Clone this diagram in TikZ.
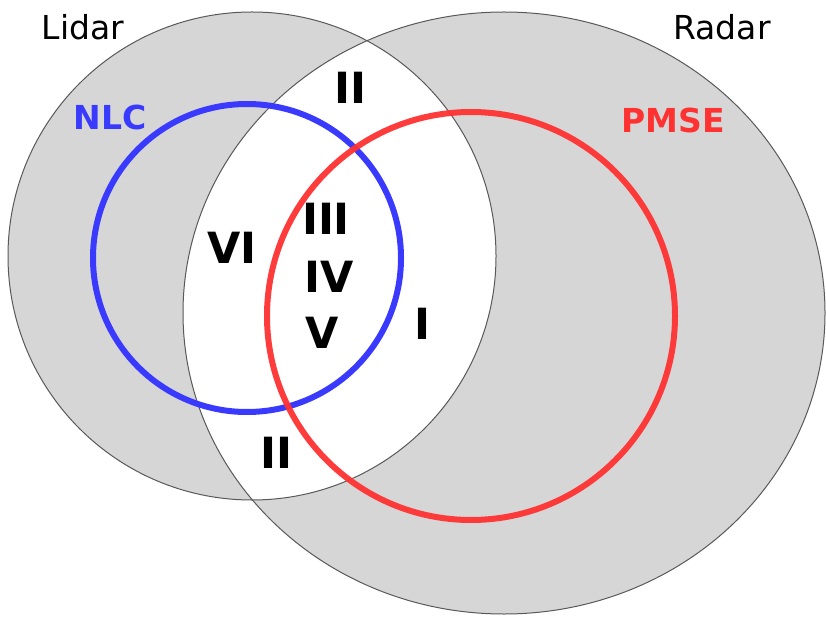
\documentclass[tikz,border=0pt]{standalone}
\usepackage{fontspec}
\setmainfont{DejaVu Sans}
\definecolor{sensorgray}{RGB}{214,214,214}
\definecolor{nlcblue}{RGB}{58,58,255}
\definecolor{pmsered}{RGB}{255,50,50}

\begin{document}
\begin{tikzpicture}[x=1pt, y=-1pt,
	instrument/.style={font=\fontsize{33}{33}\selectfont},
	layer/.style={font=\bfseries\fontsize{33}{33}\selectfont},
	region/.style={font=\bfseries\fontsize{43}{43}\selectfont},
	ring/.style={line width=6pt},]

\useasboundingbox (0,0) rectangle (826,617);

% Lidar and Radar fields of view, overlap left white
\fill[sensorgray, even odd rule] (252,256) circle [radius=244]
	(504,313) ellipse [x radius=321, y radius=301];
\draw[black!65, line width=1pt] (252,256) circle [radius=244];
\draw[black!65, line width=1pt] (504,313) ellipse [x radius=321, y radius=301];

% NLC and PMSE
\draw[ring, nlcblue] (247,258) circle [radius=154];
\draw[ring, pmsered, opacity=0.95] (471,316) circle [radius=204];

% Labels
\node[instrument] (lidar) at (83,27) {Lidar};
\node[instrument] (radar) at (722,27) {Radar};
\node[layer, text=nlcblue] (nlc) at (110,117) {NLC};
\node[layer, text=pmsered] (pmse) at (673,120) {PMSE};

% Regions
\node[region] (topII) at (350,88) {II};
\node[region] (VI) at (232,248) {VI};
\node[region] (III) at (326,219) {III};
\node[region] (IV) at (329,277) {IV};
\node[region] (V) at (322,333) {V};
\node[region] (I) at (422,324) {I};
\node[region] (botII) at (276,453) {II};

\end{tikzpicture}
\end{document}
